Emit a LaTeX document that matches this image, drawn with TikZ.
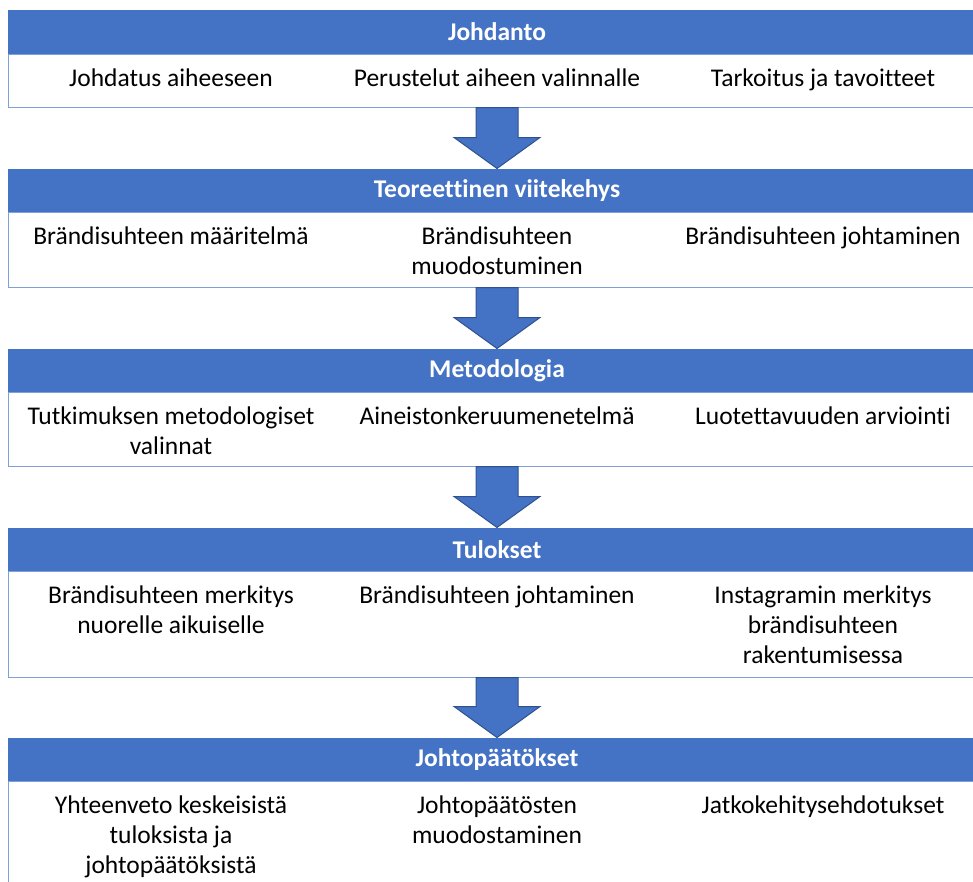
\documentclass[tikz,border=0pt]{standalone}
\usepackage{fontspec}
\setmainfont{Carlito}[Ligatures=NoCommon]
\usetikzlibrary{positioning, calc}

\definecolor{headblue}{HTML}{4472C4}
\definecolor{lineblue}{HTML}{7F9FD8}
\definecolor{darkblue}{HTML}{2F528F}

% block arrow from the bottom of one box to the top of the next
\newcommand{\flowarrow}[2]{%
  \draw[blockarrow] let \p1=(#1.south), \p2=(#2.north) in
    (\x1-21pt,\y1) -- (\x1+21pt,\y1) -- (\x1+21pt,\y2+31pt) -- (\x1+43pt,\y2+31pt)
    -- (\x1,\y2) -- (\x1-43pt,\y2+31pt) -- (\x1-21pt,\y2+31pt) -- cycle;}

\begin{document}
\begin{tikzpicture}[x=1pt, y=-1pt,
  head/.style={rectangle, fill=headblue, minimum width=978pt, minimum height=44pt,
    inner sep=0pt, outer sep=0pt, text=white, font={\fontsize{25.5}{30}\selectfont\bfseries}},
  body/.style={rectangle, draw=lineblue, line width=0.8pt, minimum width=978pt,
    inner sep=0pt, outer sep=0pt},
  item/.style={align=center, inner sep=0pt, anchor=north, font={\fontsize{25.5}{30}\selectfont}},
  blockarrow/.style={fill=headblue, draw=darkblue, line width=1pt, line join=miter},
  node distance=61pt]

\useasboundingbox (0,0) rectangle (973,881);

\node[head, anchor=north west] (johdanto) at (8,10) {Johdanto};
\node[body, minimum height=53.5pt, below=0pt of johdanto] (johdantoBody) {};
\node[item] (j1) at ([xshift=-326pt,yshift=-11pt]johdantoBody.north) {\strut Johdatus aiheeseen};
\node[item] (j2) at ([yshift=-11pt]johdantoBody.north) {\strut Perustelut aiheen valinnalle};
\node[item] (j3) at ([xshift=326pt,yshift=-11pt]johdantoBody.north) {\strut Tarkoitus ja tavoitteet};

\node[head, below=of johdantoBody] (teoria) {Teoreettinen viitekehys};
\node[body, minimum height=75pt, below=0pt of teoria] (teoriaBody) {};
\node[item] (t1) at ([xshift=-326pt,yshift=-11pt]teoriaBody.north) {\strut Brändisuhteen määritelmä};
\node[item] (t2) at ([yshift=-11pt]teoriaBody.north) {\strut Brändisuhteen\\muodostuminen};
\node[item] (t3) at ([xshift=326pt,yshift=-11pt]teoriaBody.north) {\strut Brändisuhteen johtaminen};

\node[head, below=of teoriaBody] (metodi) {Metodologia};
\node[body, minimum height=74pt, below=0pt of metodi] (metodiBody) {};
\node[item] (m1) at ([xshift=-326pt,yshift=-11pt]metodiBody.north) {\strut Tutkimuksen metodologiset\\valinnat};
\node[item] (m2) at ([yshift=-11pt]metodiBody.north) {\strut Aineistonkeruumenetelmä};
\node[item] (m3) at ([xshift=326pt,yshift=-11pt]metodiBody.north) {\strut Luotettavuuden arviointi};

\node[head, below=of metodiBody] (tulokset) {Tulokset};
\node[body, minimum height=106pt, below=0pt of tulokset] (tuloksetBody) {};
\node[item] (r1) at ([xshift=-326pt,yshift=-11pt]tuloksetBody.north) {\strut Brändisuhteen merkitys\\nuorelle aikuiselle};
\node[item] (r2) at ([yshift=-11pt]tuloksetBody.north) {\strut Brändisuhteen johtaminen};
\node[item] (r3) at ([xshift=326pt,yshift=-11pt]tuloksetBody.north) {\strut Instagramin merkitys\\brändisuhteen\\rakentumisessa};

\node[head, below=60pt of tuloksetBody] (paatos) {Johtopäätökset};
\node[body, minimum height=115pt, below=0pt of paatos] (paatosBody) {};
\node[item] (p1) at ([xshift=-326pt,yshift=-11pt]paatosBody.north) {\strut Yhteenveto keskeisistä\\tuloksista ja\\johtopäätöksistä};
\node[item] (p2) at ([yshift=-11pt]paatosBody.north) {\strut Johtopäätösten\\muodostaminen};
\node[item] (p3) at ([xshift=326pt,yshift=-11pt]paatosBody.north) {\strut Jatkokehitysehdotukset};

\flowarrow{johdantoBody}{teoria}
\flowarrow{teoriaBody}{metodi}
\flowarrow{metodiBody}{tulokset}
\flowarrow{tuloksetBody}{paatos}

\end{tikzpicture}
\end{document}
